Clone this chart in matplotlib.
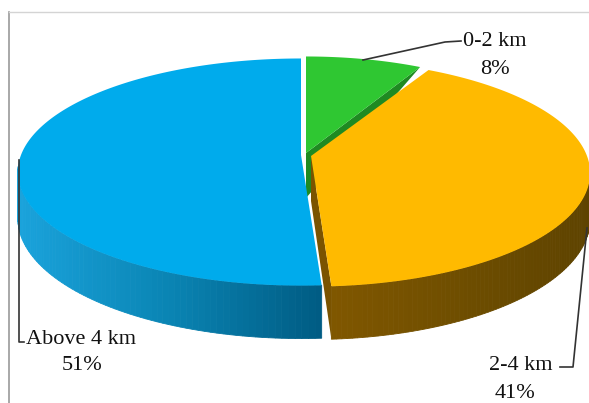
import matplotlib
matplotlib.use("Agg")
import matplotlib.pyplot as plt
from matplotlib.colors import LinearSegmentedColormap
from matplotlib.patches import Polygon
import numpy as np

labels = ["0-2 km", "2-4 km", "Above 4 km"]
values = [8, 41, 51]

top_colors = ["#2fc732", "#ffba00", "#00abec"]
radial_colors = ["#1f8a22", "#7a5300", "#00709a"]
wall_colors = [["#1f8a22", "#1f8a22"],
               ["#805700", "#6f4e00", "#5e4300"],
               ["#1aa3dc", "#0a85b4", "#005c84"]]

# pie geometry in image pixels
centers = [(306, 153), (311, 156), (301, 155)]
radius_x = [268, 276, 280]
radius_y = 111
persp = 0.15
depth = 45

plt.rcParams["font.family"] = ["Liberation Serif", "DejaVu Serif"]

fig = plt.figure(figsize=(5.89, 4.03), dpi=100)
ax = fig.add_axes([0, 0, 1, 1])
ax.set_xlim(0, 589)
ax.set_ylim(403, 0)
ax.axis("off")


def project(theta, i):
    # clockwise from 12 o'clock, back of the disc drawn smaller
    k = 1 / (1 + persp * np.cos(theta))
    x = centers[i][0] + radius_x[i] * np.sin(theta) * k
    y = centers[i][1] - radius_y * np.cos(theta) * k
    return x, y, k


# frame
ax.plot([9, 9], [12, 403], color="#9a9a9a", lw=1.2)
ax.plot([9, 589], [12, 12], color="#d4d4d4", lw=1)

edges = np.cumsum([0] + values) / sum(values) * 2 * np.pi

for i in range(len(values)):
    theta = np.linspace(edges[i], edges[i + 1], 160)
    x, y, k = project(theta, i)
    cx, cy = centers[i]

    # outer wall, shaded left to right, only the part facing the viewer
    cmap = LinearSegmentedColormap.from_list("wall", wall_colors[i])
    x_min, x_max = x.min(), x.max()
    for j in range(len(theta) - 1):
        if np.cos(theta[j]) > -0.1 or np.cos(theta[j + 1]) > -0.1:
            continue
        quad = [(x[j], y[j]), (x[j + 1], y[j + 1]),
                (x[j + 1], y[j + 1] + depth * k[j + 1]), (x[j], y[j] + depth * k[j])]
        shade = cmap((x[j] - x_min) / (x_max - x_min))
        ax.add_patch(Polygon(quad, facecolor=shade, edgecolor=shade, lw=0.6))

    # cut face along the clockwise edge of the slice
    if i == 0:
        tri = [(cx, cy), (x[-1], y[-1]), (cx, cy + depth)]
        ax.add_patch(Polygon(tri, facecolor=radial_colors[i], edgecolor="none"))
    elif i == 1:
        quad = [(cx, cy), (x[-1], y[-1]), (x[-1], y[-1] + depth * k[-1]), (cx, cy + depth)]
        ax.add_patch(Polygon(quad, facecolor=radial_colors[i], edgecolor="none"))

    # top of the slice
    top = np.column_stack([np.r_[cx, x], np.r_[cy, y]])
    ax.add_patch(Polygon(top, facecolor=top_colors[i], edgecolor="none"))

# leader lines
line_color = "#333333"
ax.plot([363, 445, 461], [60, 42, 41], color=line_color, lw=1.2)
ax.plot([587, 573, 560], [228, 367, 367], color=line_color, lw=1.2)
ax.plot([19, 19, 24], [160, 342, 342], color=line_color, lw=1.2)

# labels
label_pos = [(495, 42, 495, 69), (521, 366, 515, 393), (81, 339, 82, 366)]
for name, val, (x1, y1, x2, y2) in zip(labels, values, label_pos):
    ax.text(x1, y1, name, fontsize=16, ha="center", va="center", color="#111111")
    ax.text(x2, y2, f"{val}%", fontsize=16, ha="center", va="center", color="#111111")

fig.savefig("out.png", dpi=100)
